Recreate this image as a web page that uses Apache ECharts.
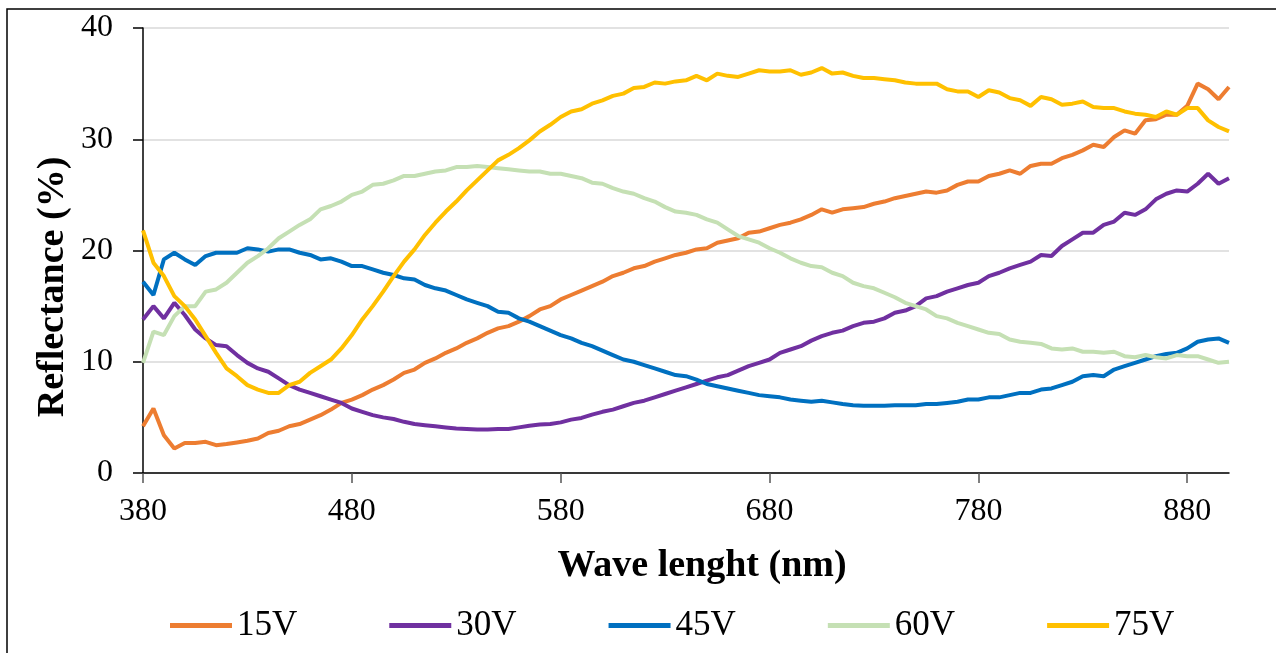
<!DOCTYPE html>
<html>
<head>
<meta charset="utf-8">
<script src="https://cdn.jsdelivr.net/npm/echarts@6/dist/echarts.min.js"></script>
<style>
html,body{margin:0;padding:0;background:#fff;}
#chart{width:1276px;height:653px;}
</style>
</head>
<body>
<div id="chart"></div>
<script>
var wavelengths = [];
for (var w = 380; w <= 900; w += 5) wavelengths.push(w);

var xTicks = [380, 480, 580, 680, 780, 880];
var yTicks = [0, 10, 20, 30, 40];
var seriesNames = ['15V', '30V', '45V', '60V', '75V'];
var seriesColors = ['#ED7D31', '#7030A0', '#0070C0', '#C5E0B4', '#FFC000'];

var v15 = [4.2,5.8,3.4,2.2,2.7,2.7,2.8,2.5,2.6,2.75,2.9,3.1,3.6,3.8,4.2,4.4,4.8,5.2,
5.7,6.3,6.6,7.0,7.5,7.9,8.4,9.0,9.3,9.9,10.3,10.8,11.2,11.7,12.1,12.6,13.0,
13.2,13.6,14.1,14.7,15.0,15.6,16.0,16.4,16.8,17.2,17.7,18.0,18.4,18.6,19.0,19.3,19.6,
19.8,20.1,20.2,20.7,20.9,21.1,21.6,21.7,22.0,22.3,22.5,22.8,23.2,23.7,23.4,23.7,23.8,23.9,
24.2,24.4,24.7,24.9,25.1,25.3,25.2,25.4,25.9,26.2,26.2,26.7,26.9,27.2,26.9,27.6,27.8,
27.8,28.3,28.6,29.0,29.5,29.3,30.2,30.8,30.5,31.7,31.8,32.2,32.2,33.0,35.0,34.5,33.6,34.7];

var v30 = [13.8,15.0,13.9,15.3,14.2,12.9,12.1,11.5,11.4,10.6,9.9,9.4,9.1,8.5,7.9,7.5,7.2,6.9,
6.6,6.3,5.8,5.5,5.2,5.0,4.85,4.6,4.4,4.3,4.2,4.1,4.0,3.95,3.9,3.9,3.95,
3.95,4.1,4.25,4.35,4.4,4.55,4.8,4.95,5.25,5.5,5.7,6.0,6.3,6.5,6.8,7.1,7.4,
7.7,8.0,8.3,8.6,8.8,9.2,9.6,9.9,10.2,10.8,11.1,11.4,11.9,12.3,12.6,12.8,13.2,13.5,
13.6,13.9,14.4,14.6,15.0,15.7,15.9,16.3,16.6,16.9,17.1,17.7,18.0,18.4,18.7,19.0,19.6,
19.5,20.4,21.0,21.6,21.6,22.3,22.6,23.4,23.2,23.7,24.6,25.1,25.4,25.3,26.0,26.9,26.0,26.5];

var v45 = [17.2,16.0,19.2,19.8,19.2,18.7,19.5,19.8,19.8,19.8,20.2,20.1,19.9,20.1,20.1,19.8,19.6,19.2,
19.3,19.0,18.6,18.6,18.3,18.0,17.8,17.5,17.4,16.9,16.6,16.4,16.0,15.6,15.3,15.0,14.5,
14.4,13.9,13.6,13.2,12.8,12.4,12.1,11.7,11.4,11.0,10.6,10.2,10.0,9.7,9.4,9.1,8.8,
8.7,8.4,8.0,7.8,7.6,7.4,7.2,7.0,6.9,6.8,6.6,6.5,6.4,6.5,6.35,6.2,6.1,6.05,
6.05,6.05,6.1,6.1,6.1,6.2,6.2,6.3,6.4,6.6,6.6,6.8,6.8,7.0,7.2,7.2,7.5,
7.6,7.9,8.2,8.7,8.8,8.7,9.3,9.6,9.9,10.2,10.5,10.7,10.8,11.2,11.8,12.0,12.1,11.7];

var v60 = [9.9,12.7,12.4,14.1,15.0,15.0,16.3,16.5,17.1,18.0,18.9,19.5,20.2,21.1,21.7,22.3,22.8,23.7,
24.0,24.4,25.0,25.3,25.9,26.0,26.3,26.7,26.7,26.9,27.1,27.2,27.5,27.5,27.6,27.5,27.4,
27.3,27.2,27.1,27.1,26.9,26.9,26.7,26.5,26.1,26.0,25.6,25.3,25.1,24.7,24.4,23.9,23.5,
23.4,23.2,22.8,22.5,21.9,21.3,21.0,20.7,20.2,19.8,19.3,18.9,18.6,18.5,18.0,17.7,17.1,16.8,
16.6,16.2,15.8,15.3,15.0,14.7,14.1,13.9,13.5,13.2,12.9,12.6,12.5,12.0,11.8,11.7,11.6,
11.2,11.1,11.2,10.9,10.9,10.8,10.9,10.5,10.4,10.6,10.4,10.3,10.6,10.5,10.5,10.2,9.9,10.0];

var v75 = [21.8,18.9,17.7,15.9,15.0,13.8,12.3,10.8,9.4,8.7,7.9,7.5,7.2,7.2,7.9,8.2,9.0,9.6,
10.2,11.2,12.4,13.8,15.0,16.3,17.7,19.0,20.1,21.4,22.5,23.5,24.4,25.4,26.3,27.2,28.1,
28.6,29.2,29.9,30.7,31.3,32.0,32.5,32.7,33.2,33.5,33.9,34.1,34.6,34.7,35.1,35.0,35.2,
35.3,35.7,35.3,35.9,35.7,35.6,35.9,36.2,36.1,36.1,36.2,35.8,36.0,36.4,35.9,36.0,35.7,35.5,
35.5,35.4,35.3,35.1,35.0,35.0,35.0,34.5,34.3,34.3,33.8,34.4,34.2,33.7,33.5,33.0,33.8,
33.6,33.1,33.2,33.4,32.9,32.8,32.8,32.5,32.3,32.2,32.0,32.5,32.2,32.8,32.8,31.7,31.1,30.7];

var allValues = [v15, v30, v45, v60, v75];

function pairs(vals) {
  return wavelengths.map(function (x, i) { return [x, vals[i]]; });
}

var FONT = '"Liberation Serif", "Times New Roman", serif';

var chart = echarts.init(document.getElementById('chart'));
chart.setOption({
  animation: false,
  backgroundColor: '#fff',
  grid: { left: 143, right: 47, top: 28, bottom: 180, containLabel: false },
  xAxis: {
    type: 'value',
    min: 380, max: 900,
    axisLine: { show: true, onZero: false, lineStyle: { color: '#000', width: 1.5 } },
    axisTick: { show: true, customValues: xTicks, length: 10, lineStyle: { color: '#555', width: 1.5 } },
    axisLabel: { customValues: xTicks, fontFamily: FONT, fontSize: 32, color: '#000', margin: 23 },
    splitLine: { show: false }
  },
  yAxis: {
    type: 'value',
    min: 0, max: 40, interval: 10,
    axisLine: { show: true, lineStyle: { color: '#000', width: 1.5 } },
    axisTick: { show: true, length: 10, lineStyle: { color: '#000', width: 1.5 } },
    axisLabel: { fontFamily: FONT, fontSize: 32, color: '#000', margin: 30 },
    splitLine: { show: true, lineStyle: { color: '#D9D9D9', width: 1.5 } }
  },
  legend: {
    left: 170, top: 608,
    padding: 0,
    itemGap: 92,
    itemWidth: 62, itemHeight: 5,
    icon: 'rect',
    textStyle: { fontFamily: FONT, fontSize: 35, color: '#000', padding: [0, 0, 0, 0] },
    data: seriesNames
  },
  graphic: [
    { type: 'rect', shape: { x: 7, y: 9, width: 1400, height: 800 }, style: { fill: 'none', stroke: '#000', lineWidth: 1.5 }, silent: true },
    { type: 'text', x: 702, y: 566, style: { text: 'Wave lenght (nm)', font: 'bold 38px ' + FONT, fill: '#000', textAlign: 'center', textVerticalAlign: 'middle' } },
    { type: 'text', x: 53, y: 287, rotation: Math.PI / 2, style: { text: 'Reflectance (%)', font: 'bold 38px ' + FONT, fill: '#000', textAlign: 'center', textVerticalAlign: 'middle' } }
  ],
  series: seriesNames.map(function (name, i) {
    return {
      name: name,
      type: 'line',
      data: pairs(allValues[i]),
      showSymbol: false,
      symbol: 'none',
      smooth: false,
      lineStyle: { color: seriesColors[i], width: 4 },
      itemStyle: { color: seriesColors[i] }
    };
  })
});
</script>
</body>
</html>
